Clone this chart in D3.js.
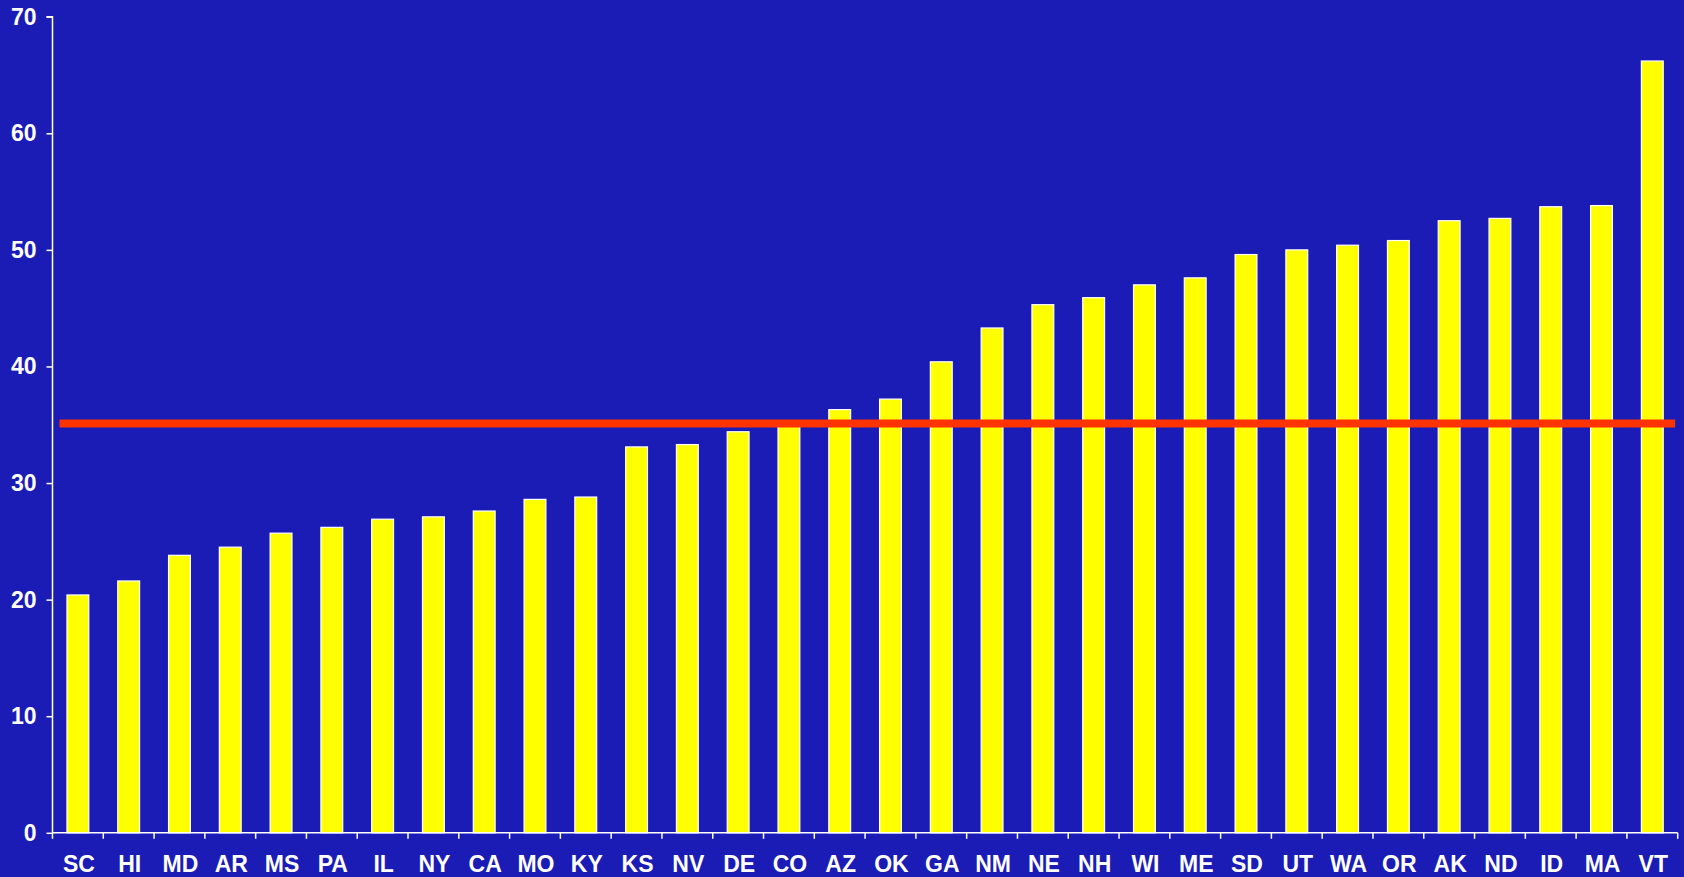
<!DOCTYPE html>
<html>
<head>
<meta charset="utf-8">
<script src="https://cdn.jsdelivr.net/npm/d3@7"></script>
<style>
  html, body { margin: 0; padding: 0; background: #1b1bb5; overflow: hidden; }
  svg { display: block; }
</style>
</head>
<body>
<svg id="chart" width="1684" height="877"></svg>
<script>
const states = ["SC","HI","MD","AR","MS","PA","IL","NY","CA","MO","KY","KS","NV","DE","CO","AZ","OK","GA","NM","NE","NH","WI","ME","SD","UT","WA","OR","AK","ND","ID","MA","VT"];
const values = [20.4,21.6,23.8,24.5,25.7,26.2,26.9,27.1,27.6,28.6,28.8,33.1,33.3,34.4,35.2,36.3,37.2,40.4,43.3,45.3,45.9,47.0,47.6,49.6,50.0,50.4,50.8,52.5,52.7,53.7,53.8,66.2];
const referenceValue = 35.1;
const yTicks = [0,10,20,30,40,50,60,70];

(function () {
  const svg = d3.select("#chart");
  const W = 1684, H = 877;
  const mLeft = 52.5, mRight = 1677.7, mTop = 16.7, mBottom = 832.8;

  svg.append("rect").attr("width", W).attr("height", H).attr("fill", "#1b1bb5");

  const x = d3.scaleBand().domain(states).range([mLeft, mRight]).paddingInner(0).paddingOuter(0);
  const y = d3.scaleLinear().domain([0, 70]).range([mBottom, mTop]);

  const barFrac = 0.43;
  const bw = x.bandwidth() * barFrac;

  svg.append("g").selectAll("rect")
    .data(states)
    .join("rect")
    .attr("x", (d) => x(d) + (x.bandwidth() - bw) / 2)
    .attr("y", (d, i) => y(values[i]))
    .attr("width", bw)
    .attr("height", (d, i) => y(0) - y(values[i]))
    .attr("fill", "#ffff00")
    .attr("stroke", "#ffffff")
    .attr("stroke-width", 1.2);

  // Reference line
  svg.append("line")
    .attr("x1", mLeft + 7).attr("x2", mRight - 2.5)
    .attr("y1", y(referenceValue)).attr("y2", y(referenceValue))
    .attr("stroke", "#ff3300")
    .attr("stroke-width", 8);

  // Y axis
  const yAxis = d3.axisLeft(y).tickValues(yTicks).tickSize(6).tickPadding(10).tickFormat(d3.format("d"));
  const gy = svg.append("g").attr("transform", `translate(${mLeft},0)`).call(yAxis);
  gy.select(".domain").attr("stroke", "#fff").attr("stroke-width", 1.5).attr("d", `M-6,${mTop}H0V${mBottom}`);
  gy.selectAll(".tick line").attr("stroke", "#fff").attr("stroke-width", 1.5);
  gy.selectAll(".tick text")
    .attr("fill", "#fff")
    .style("font-family", "'Liberation Sans', Arial, sans-serif")
    .style("font-weight", "bold")
    .style("font-size", "23px");

  // X axis
  const gx = svg.append("g").attr("transform", `translate(0,${mBottom})`);
  gx.append("line").attr("x1", mLeft).attr("x2", mRight).attr("y1", 0).attr("y2", 0)
    .attr("stroke", "#fff").attr("stroke-width", 1.5);
  const boundaries = d3.range(states.length + 1).map(i => mLeft + i * x.step());
  gx.selectAll("line.tk").data(boundaries).join("line").attr("class", "tk")
    .attr("x1", d => d).attr("x2", d => d).attr("y1", 0).attr("y2", 6)
    .attr("stroke", "#fff").attr("stroke-width", 1.5);
  gx.selectAll("text").data(states).join("text")
    .attr("x", d => x(d) + x.bandwidth() / 2 + 1)
    .attr("y", 39)
    .attr("text-anchor", "middle")
    .attr("fill", "#fff")
    .style("font-family", "'Liberation Sans', Arial, sans-serif")
    .style("font-weight", "bold")
    .style("font-size", "23px")
    .text(d => d);
})();
</script>
</body>
</html>
